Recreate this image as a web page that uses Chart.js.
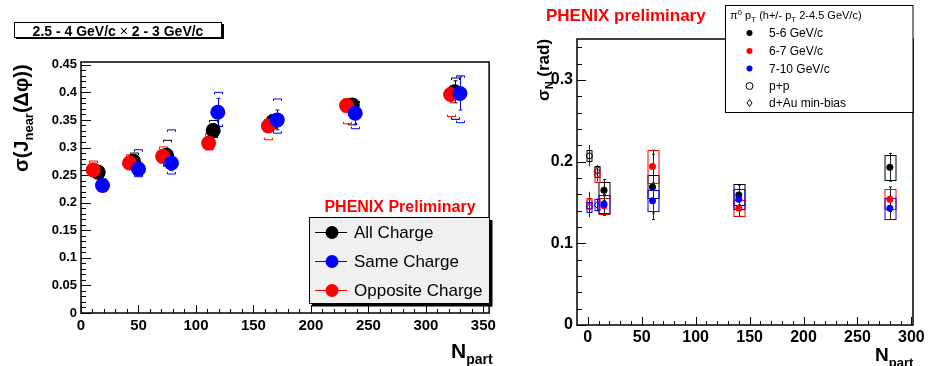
<!DOCTYPE html>
<html>
<head>
<meta charset="utf-8">
<script src="https://cdn.jsdelivr.net/npm/chart.js@4.4.1/dist/chart.umd.min.js"></script>
<style>
  body { margin:0; background:#fff; }
  #wrap { position:relative; width:928px; height:366px; overflow:hidden; }
  canvas { position:absolute; top:0; }
</style>
</head>
<body>
<div id="wrap">
  <canvas id="leftChart" width="500" height="366" style="left:0"></canvas>
  <canvas id="rightChart" width="428" height="366" style="left:500px"></canvas>
</div>
<script>
const FONT = '"Liberation Sans", Arial, sans-serif';

// ---- left panel: sigma(J_near) vs Npart ----
const nAll      = [15, 45.7, 74.4, 115, 167, 236, 325];
const yAll      = [0.255, 0.275, 0.286, 0.331, 0.347, 0.377, 0.401];
const statAll   = [0.007, 0.008, 0.008, 0.012, 0.010, 0.008, 0.020];
const sysHiAll  = [0.010, 0.015, 0.027, 0.018, 0.012, 0.010, 0.025];
const sysLoAll  = [0.010, 0.012, 0.020, 0.013, 0.012, 0.036, 0.050];

const nSame     = [18.7, 50, 78.7, 119, 170.7, 238.5, 329.6];
const ySame     = [0.231, 0.261, 0.272, 0.364, 0.350, 0.362, 0.398];
const statSame  = [0.008, 0.012, 0.014, 0.025, 0.018, 0.020, 0.030];
const sysHiSame = [0.012, 0.035, 0.060, 0.036, 0.038, 0.022, 0.032];
const sysLoSame = [0.010, 0.014, 0.020, 0.026, 0.024, 0.028, 0.053];

const nOpp      = [10.6, 42.2, 71, 111, 163, 231, 321.5];
const yOpp      = [0.2595, 0.272, 0.284, 0.308, 0.339, 0.376, 0.396];
const statOpp   = [0.006, 0.007, 0.008, 0.010, 0.010, 0.012, 0.015];
const sysHiOpp  = [0.016, 0.015, 0.017, 0.017, 0.012, 0.012, 0.012];
const sysLoOpp  = [0.010, 0.012, 0.012, 0.012, 0.025, 0.033, 0.040];

const leftNames = ["All Charge", "Same Charge", "Opposite Charge"];

// ---- right panel: sigma_N vs Npart ----
const nAuAu   = [15, 60, 140, 280];
const y56     = [0.165, 0.169, 0.159, 0.193];
const stat56  = [0.013, 0.040, 0.012, 0.017];
const sys56   = [0.010, 0.014, 0.013, 0.015];
const y67     = [0.146, 0.194, 0.143, 0.154];
const stat67  = [0.012, 0.020, 0.010, 0.015];
const sys67   = [0.010, 0.020, 0.010, 0.012];
const y710    = [0.148, 0.152, 0.154, 0.143];
const stat710 = [0.012, 0.015, 0.012, 0.014];
const sys710  = [0.011, 0.013, 0.012, 0.013];

// p+p (first) and d+Au min-bias (second)
const nRef       = [1.5, 8.5];
const ref56      = [0.207, 0.188];
const ref67      = [0.150, 0.184];
const ref710     = [0.145, 0.147];
const refStat    = [0.013, 0.008];
const refSys56   = [0.007, 0.007];
const refSys67   = [0.006, 0.009];
const refSys710  = [0.006, 0.007];

const rightNames = ["5-6 GeV/c", "6-7 GeV/c", "7-10 GeV/c", "p+p", "d+Au min-bias"];

const RED = "#ff0000", BLUE = "#0000ff", BLACK = "#000000";

function pts(xs, ys) { return xs.map((x, i) => ({x: x, y: ys[i]})); }

function line(ctx, x1, y1, x2, y2) {
  ctx.beginPath(); ctx.moveTo(x1, y1); ctx.lineTo(x2, y2); ctx.stroke();
}

// draw text made of pieces with their own font / baseline shift
function rich(ctx, parts, x, y) {
  let cx = x;
  parts.forEach(p => {
    ctx.font = p.f;
    ctx.fillText(p.t, cx, y + (p.dy || 0));
    cx += ctx.measureText(p.t).width;
  });
  return cx - x;
}
function richWidth(ctx, parts) {
  let w = 0;
  parts.forEach(p => { ctx.font = p.f; w += ctx.measureText(p.t).width; });
  return w;
}

function drawTicks(chart, xt, yt) {
  const {ctx, chartArea: a, scales: {x, y}} = chart;
  ctx.save();
  ctx.strokeStyle = "#000"; ctx.lineWidth = 1;
  for (let i = 0; i <= Math.round((xt.to - xt.from) / xt.minor); i++) {
    const v = xt.from + i * xt.minor;
    const major = Math.abs(v / xt.major - Math.round(v / xt.major)) < 1e-6;
    const px = Math.round(x.getPixelForValue(v)) + 0.5;
    line(ctx, px, a.bottom, px, a.bottom - (major ? xt.majLen : xt.minLen));
  }
  for (let i = 0; i <= Math.round((yt.to - yt.from) / yt.minor); i++) {
    const v = yt.from + i * yt.minor;
    const major = Math.abs(v / yt.major - Math.round(v / yt.major)) < 1e-6;
    const py = Math.round(y.getPixelForValue(v)) + 0.5;
    line(ctx, a.left, py, a.left + (major ? yt.majLen : yt.minLen), py);
  }
  ctx.lineWidth = 1.5;
  ctx.strokeRect(a.left, a.top, a.right - a.left, a.bottom - a.top);
  ctx.restore();
}

// ---------------- LEFT ----------------
const leftSeries = [
  {xs: nAll,  ys: yAll,  st: statAll,  hi: sysHiAll,  lo: sysLoAll,  c: BLACK},
  {xs: nSame, ys: ySame, st: statSame, hi: sysHiSame, lo: sysLoSame, c: BLUE},
  {xs: nOpp,  ys: yOpp,  st: statOpp,  hi: sysHiOpp,  lo: sysLoOpp,  c: RED}
];

const leftDecor = {
  id: "leftDecor",
  beforeDatasetsDraw(chart) {
    const {ctx, scales: {x, y}} = chart;
    drawTicks(chart,
      {from: 0, to: 350, minor: 10, major: 50, majLen: 8, minLen: 4},
      {from: 0, to: 0.45, minor: 0.01, major: 0.05, majLen: 10, minLen: 5});
    ctx.save();
    ctx.lineWidth = 1;
    leftSeries.forEach(s => {
      ctx.strokeStyle = s.c;
      s.xs.forEach((xv, i) => {
        const px = Math.round(x.getPixelForValue(xv)) + 0.5;
        const y1 = y.getPixelForValue(s.ys[i] + s.st[i]);
        const y2 = y.getPixelForValue(s.ys[i] - s.st[i]);
        line(ctx, px, y1, px, y2);
        line(ctx, px - 2, y1, px + 2, y1);
        line(ctx, px - 2, y2, px + 2, y2);
        // systematic brackets
        const bt = y.getPixelForValue(s.ys[i] + s.hi[i]);
        const bb = y.getPixelForValue(s.ys[i] - s.lo[i]);
        ctx.beginPath();
        ctx.moveTo(px - 4, bt + 2); ctx.lineTo(px - 4, bt); ctx.lineTo(px + 4, bt); ctx.lineTo(px + 4, bt + 2);
        ctx.moveTo(px - 4, bb - 2); ctx.lineTo(px - 4, bb); ctx.lineTo(px + 4, bb); ctx.lineTo(px + 4, bb - 2);
        ctx.stroke();
      });
    });
    ctx.restore();
  },
  afterDraw(chart) {
    const {ctx} = chart;
    ctx.save();
    ctx.fillStyle = "#000";
    ctx.textBaseline = "alphabetic";

    // title box
    ctx.fillStyle = "#000";
    ctx.fillRect(16, 37, 208, 2);
    ctx.fillRect(222, 24, 2, 15);
    ctx.fillStyle = "#fff";
    ctx.fillRect(14.5, 22.5, 207, 15);
    ctx.strokeStyle = "#000"; ctx.lineWidth = 1;
    ctx.strokeRect(14.5, 22.5, 207, 15);
    ctx.fillStyle = "#000";
    const tParts = [
      {t: "2.5 - 4 GeV/c ", f: "bold 14px " + FONT},
      {t: "\u00d7", f: "14px " + FONT},
      {t: " 2 - 3 GeV/c", f: "bold 14px " + FONT}
    ];
    rich(ctx, tParts, 118 - richWidth(ctx, tParts) / 2, 36);

    // y title (rotated)
    ctx.save();
    ctx.translate(28, 172);
    ctx.rotate(-Math.PI / 2);
    rich(ctx, [
      {t: "\u03c3(J", f: "bold 20px " + FONT},
      {t: "near", f: "bold 13px " + FONT, dy: 5},
      {t: "(\u0394\u03c6))", f: "bold 20px " + FONT}
    ], 0, 0);
    ctx.restore();

    // x title
    rich(ctx, [
      {t: "N", f: "bold 21px " + FONT},
      {t: "part", f: "bold 14px " + FONT, dy: 6}
    ], 451, 358);

    // PHENIX Preliminary
    ctx.fillStyle = RED;
    ctx.font = "bold 16px " + FONT;
    ctx.textAlign = "center";
    ctx.fillText("PHENIX Preliminary", 400, 212);
    ctx.textAlign = "left";

    // legend
    ctx.fillStyle = "#000";
    ctx.fillRect(489, 220, 3.5, 86.5);
    ctx.fillRect(312, 303, 180, 3.5);
    ctx.fillStyle = "#f0f0f0";
    ctx.fillRect(309.5, 217.5, 180, 86);
    ctx.strokeStyle = "#000"; ctx.lineWidth = 1;
    ctx.strokeRect(309.5, 217.5, 180, 86);
    const ly = [232, 261, 290];
    ctx.font = "17px " + FONT;
    ctx.textBaseline = "middle";
    leftSeries.forEach((s, i) => {
      ctx.strokeStyle = s.c;
      line(ctx, 315, ly[i] + 0.5, 347, ly[i] + 0.5);
      ctx.fillStyle = s.c;
      ctx.beginPath(); ctx.arc(332, ly[i] + 0.5, 6.5, 0, Math.PI * 2); ctx.fill();
      ctx.fillStyle = "#000";
      ctx.fillText(leftNames[i], 354, ly[i] + 1);
    });
    ctx.restore();
  }
};

new Chart(document.getElementById("leftChart"), {
  type: "scatter",
  data: {
    datasets: [
      {label: leftNames[0], data: pts(nAll, yAll),  backgroundColor: BLACK, borderWidth: 0, pointRadius: 7.5, order: 3},
      {label: leftNames[1], data: pts(nSame, ySame), backgroundColor: BLUE, borderWidth: 0, pointRadius: 7.5, order: 1},
      {label: leftNames[2], data: pts(nOpp, yOpp),  backgroundColor: RED,  borderWidth: 0, pointRadius: 7.5, order: 2}
    ]
  },
  options: {
    responsive: false,
    animation: false,
    layout: {padding: {left: 0, right: 7, top: 62, bottom: 0}},
    plugins: {legend: {display: false}, tooltip: {enabled: false}},
    scales: {
      x: {
        type: "linear", min: 0, max: 355,
        afterFit(s) { s.height = 53; },
        grid: {display: false, drawTicks: false},
        border: {display: false},
        ticks: {
          stepSize: 50, includeBounds: false, padding: 4, color: "#000",
          font: {family: FONT, size: 15, weight: "bold"},
          maxRotation: 0,
          callback: v => (Math.abs(v % 50) < 1e-6 ? String(v) : "")
        }
      },
      y: {
        type: "linear", min: 0, max: 0.455,
        afterFit(s) { s.width = 81; },
        grid: {display: false, drawTicks: false},
        border: {display: false},
        ticks: {
          stepSize: 0.05, includeBounds: false, padding: 4, color: "#000",
          font: {family: FONT, size: 13, weight: "bold"},
          callback: v => String(Math.round(v * 100) / 100)
        }
      }
    }
  },
  plugins: [leftDecor]
});

// ---------------- RIGHT ----------------
const rightSeries = [
  {ys: y56,  st: stat56,  sy: sys56,  ry: ref56,  rs: refSys56,  c: BLACK},
  {ys: y67,  st: stat67,  sy: sys67,  ry: ref67,  rs: refSys67,  c: RED},
  {ys: y710, st: stat710, sy: sys710, ry: ref710, rs: refSys710, c: BLUE}
];

const rightDecor = {
  id: "rightDecor",
  beforeDatasetsDraw(chart) {
    const {ctx, scales: {x, y}} = chart;
    drawTicks(chart,
      {from: 0, to: 300, minor: 10, major: 50, majLen: 8, minLen: 4},
      {from: 0, to: 0.34, minor: 0.02, major: 0.1, majLen: 9, minLen: 5});
    ctx.save();
    ctx.lineWidth = 1;
    rightSeries.forEach(s => {
      nAuAu.forEach((xv, i) => {
        const px = Math.round(x.getPixelForValue(xv)) + 0.5;
        ctx.strokeStyle = "#222";
        const y1 = y.getPixelForValue(s.ys[i] + s.st[i]);
        const y2 = y.getPixelForValue(s.ys[i] - s.st[i]);
        line(ctx, px, y1, px, y2);
        line(ctx, px - 1.5, y1, px + 1.5, y1);
        line(ctx, px - 1.5, y2, px + 1.5, y2);
        ctx.strokeStyle = s.c;
        const bt = y.getPixelForValue(s.ys[i] + s.sy[i]);
        const bb = y.getPixelForValue(s.ys[i] - s.sy[i]);
        ctx.strokeRect(px - 5.5, Math.round(bt) + 0.5, 11, Math.round(bb - bt));
      });
      nRef.forEach((xv, i) => {
        const px = Math.round(x.getPixelForValue(xv)) + 0.5;
        ctx.strokeStyle = "#222";
        const y1 = y.getPixelForValue(s.ry[i] + refStat[i]);
        const y2 = y.getPixelForValue(s.ry[i] - refStat[i]);
        line(ctx, px, y1, px, y2);
        ctx.strokeStyle = s.c;
        const bt = y.getPixelForValue(s.ry[i] + s.rs[i]);
        const bb = y.getPixelForValue(s.ry[i] - s.rs[i]);
        ctx.strokeRect(px - 2.5, Math.round(bt) + 0.5, 5, Math.round(bb - bt));
      });
    });
    ctx.restore();
  },
  afterDraw(chart) {
    const {ctx} = chart;
    ctx.save();
    ctx.textBaseline = "alphabetic";

    // y title
    ctx.fillStyle = "#000";
    ctx.save();
    ctx.translate(49, 101);
    ctx.rotate(-Math.PI / 2);
    rich(ctx, [
      {t: "\u03c3", f: "bold 17px " + FONT},
      {t: "N", f: "bold 11px " + FONT, dy: 4},
      {t: " (rad)", f: "bold 17px " + FONT}
    ], 0, 0);
    ctx.restore();

    // x title
    rich(ctx, [
      {t: "N", f: "bold 19px " + FONT},
      {t: "part", f: "bold 13px " + FONT, dy: 6}
    ], 375, 361);

    // PHENIX preliminary
    ctx.fillStyle = RED;
    ctx.font = "bold 17px " + FONT;
    ctx.fillText("PHENIX preliminary", 46, 21);

    // legend
    ctx.fillStyle = "#fff";
    ctx.fillRect(225.5, 5.5, 187.5, 107);
    ctx.strokeStyle = "#000"; ctx.lineWidth = 1;
    ctx.strokeRect(225.5, 5.5, 187.5, 107);
    ctx.fillStyle = "#000";
    rich(ctx, [
      {t: "\u03c0", f: "11px " + FONT},
      {t: "0", f: "8px " + FONT, dy: -4},
      {t: " p", f: "11px " + FONT},
      {t: "T", f: "8px " + FONT, dy: 3},
      {t: " (h+/- p", f: "11px " + FONT},
      {t: "T", f: "8px " + FONT, dy: 3},
      {t: " 2-4.5 GeV/c)", f: "11px " + FONT}
    ], 230, 19);
    const ly = [33, 51, 68.5, 86, 103];
    ctx.font = "12px " + FONT;
    ctx.textBaseline = "middle";
    rightNames.forEach((nm, i) => {
      const mx = 249.5;
      if (i < 3) {
        ctx.fillStyle = rightSeries[i].c;
        ctx.beginPath(); ctx.arc(mx, ly[i], 3, 0, Math.PI * 2); ctx.fill();
      } else if (i === 3) {
        ctx.strokeStyle = "#000";
        ctx.beginPath(); ctx.arc(mx, ly[i], 3.5, 0, Math.PI * 2); ctx.stroke();
      } else {
        ctx.strokeStyle = "#000";
        ctx.beginPath();
        ctx.moveTo(mx, ly[i] - 3.5); ctx.lineTo(mx + 2.5, ly[i]);
        ctx.lineTo(mx, ly[i] + 3.5); ctx.lineTo(mx - 2.5, ly[i]); ctx.closePath();
        ctx.stroke();
      }
      ctx.fillStyle = "#000";
      ctx.fillText(nm, 269, ly[i] + 1);
    });
    ctx.restore();
  }
};

const refStyles = ["circle", "rectRot"];

new Chart(document.getElementById("rightChart"), {
  type: "scatter",
  data: {
    datasets: [
      {label: rightNames[0], data: pts(nAuAu, y56),  backgroundColor: BLACK, borderWidth: 0, pointRadius: 3.5, order: 3},
      {label: rightNames[1], data: pts(nAuAu, y67),  backgroundColor: RED,   borderWidth: 0, pointRadius: 3.5, order: 2},
      {label: rightNames[2], data: pts(nAuAu, y710), backgroundColor: BLUE,  borderWidth: 0, pointRadius: 3.5, order: 1},
      {label: "ref 5-6",  data: pts(nRef, ref56),  pointStyle: refStyles, backgroundColor: "rgba(255,255,255,0)", borderColor: BLACK, borderWidth: 1, pointRadius: 3, order: 4},
      {label: "ref 6-7",  data: pts(nRef, ref67),  pointStyle: refStyles, backgroundColor: "rgba(255,255,255,0)", borderColor: RED,   borderWidth: 1, pointRadius: 3, order: 5},
      {label: "ref 7-10", data: pts(nRef, ref710), pointStyle: refStyles, backgroundColor: "rgba(255,255,255,0)", borderColor: BLUE,  borderWidth: 1, pointRadius: 3, order: 6}
    ]
  },
  options: {
    responsive: false,
    animation: false,
    layout: {padding: {left: 0, right: 15, top: 39, bottom: 0}},
    plugins: {legend: {display: false}, tooltip: {enabled: false}},
    scales: {
      x: {
        type: "linear", min: -10, max: 301.5,
        afterFit(s) { s.height = 41; },
        grid: {display: false, drawTicks: false},
        border: {display: false},
        ticks: {
          stepSize: 50, includeBounds: false, padding: 3, color: "#000",
          font: {family: FONT, size: 16, weight: "bold"},
          maxRotation: 0,
          callback: v => (Math.abs(v % 50) < 1e-6 ? String(v) : "")
        }
      },
      y: {
        type: "linear", min: 0, max: 0.35,
        afterFit(s) { s.width = 77; },
        grid: {display: false, drawTicks: false},
        border: {display: false},
        ticks: {
          stepSize: 0.1, includeBounds: false, padding: 4, color: "#000",
          font: {family: FONT, size: 16, weight: "bold"},
          callback: v => String(Math.round(v * 10) / 10)
        }
      }
    }
  },
  plugins: [rightDecor]
});
</script>
</body>
</html>
